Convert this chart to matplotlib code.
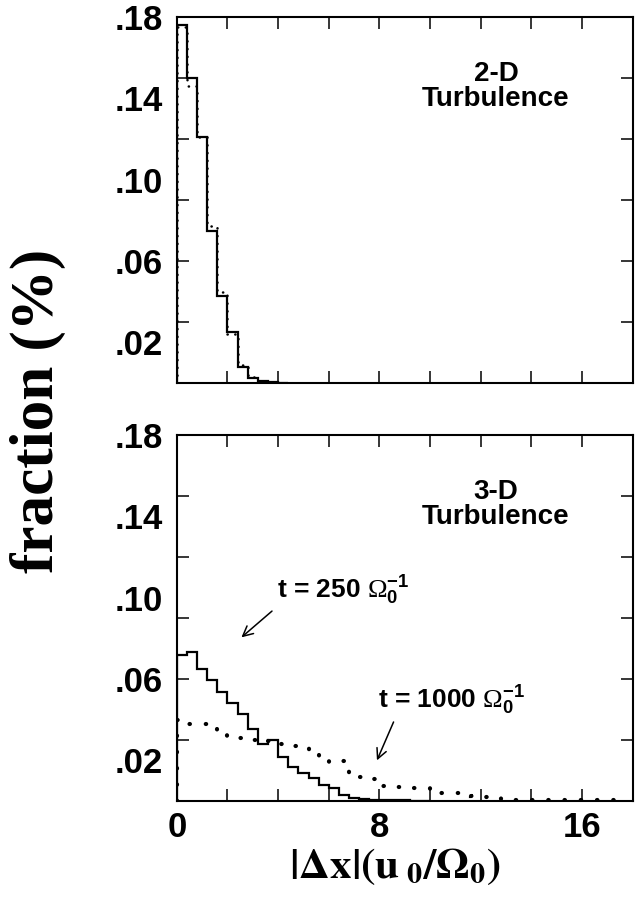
import numpy as np
import matplotlib
matplotlib.use("Agg")
import matplotlib.pyplot as plt

# ---------------- data ----------------
bin_width = 0.4
top_solid = [0.176, 0.150, 0.121, 0.075, 0.043, 0.025, 0.008, 0.0025, 0.001, 0.0003, 0.0]
top_dotted = [0.175, 0.146, 0.121, 0.077, 0.045, 0.024, 0.009, 0.003, 0.0012, 0.0004, 0.0]

bot_solid = [0.072, 0.0734, 0.065, 0.0595, 0.0535, 0.048, 0.0428, 0.0353, 0.028, 0.030,
             0.0218, 0.0169, 0.0139, 0.0111, 0.0079, 0.0062, 0.003, 0.0016, 0.001, 0.0007,
             0.0005, 0.0004, 0.0003, 0.0002, 0.0]
bot_dotted = [0.040, 0.038, 0.038, 0.036, 0.035, 0.032, 0.031, 0.030, 0.029, 0.0295,
              0.028, 0.027, 0.026, 0.024, 0.021, 0.019, 0.0195, 0.013, 0.012, 0.011,
              0.0075, 0.007, 0.0067, 0.0064, 0.0065, 0.004, 0.0038, 0.0037, 0.0035, 0.0025,
              0.002, 0.0013, 0.0012, 0.0006, 0.0005, 0.0005, 0.0005, 0.0005, 0.0004, 0.0004,
              0.0004, 0.0003, 0.0003, 0.0003]

y_tick_labels = [".02", ".06", ".10", ".14", ".18"]
y_label_pos = [0.02, 0.06, 0.10, 0.14, 0.18]
y_tick_pos = [0.03, 0.06, 0.09, 0.12, 0.15]
x_ticks = [0, 2, 4, 6, 8, 10, 12, 14, 16, 18]
x_tick_labels = ["0", "", "", "", "8", "", "", "", "16", ""]

plt.rcParams['mathtext.fontset'] = 'custom'
plt.rcParams['mathtext.rm'] = 'Liberation Serif'
plt.rcParams['mathtext.bf'] = 'Liberation Sans:bold'
plt.rcParams['mathtext.it'] = 'Liberation Serif:italic'

fig = plt.figure(figsize=(6.36, 8.99), dpi=100)
ax1 = fig.add_axes([0.278, 0.574, 0.717, 0.407])
ax2 = fig.add_axes([0.278, 0.109, 0.717, 0.407])

sans = 'Liberation Sans'

def style(ax, xlabels):
    ax.set_xlim(0, 18)
    ax.set_ylim(0, 0.18)
    ax.yaxis.remove_overlapping_locs = False
    for s in ax.spines.values():
        s.set_linewidth(1.5)
    ax.set_xticks(x_ticks)
    if xlabels:
        ax.set_xticklabels(x_tick_labels, fontsize=25, fontweight='bold', family=sans)
    else:
        ax.set_xticklabels([])
    ax.set_yticks(y_tick_pos)
    ax.set_yticklabels([])
    ax.set_yticks(y_label_pos, minor=True)
    ax.set_yticklabels(y_tick_labels, minor=True, fontsize=25, fontweight='bold', family=sans)
    ax.tick_params(which='major', direction='in', length=8.5, width=1.1,
                   top=True, right=True, pad=7)
    ax.tick_params(which='minor', axis='y', length=0, pad=10)
    ax.tick_params(which='minor', axis='x', bottom=False, top=False)

def edges(vals):
    return bin_width * np.arange(len(vals) + 1)

ax1.stairs(top_solid, edges(top_solid), color='black', linewidth=1.6)
d1 = ax1.stairs(top_dotted, edges(top_dotted), color='black', linewidth=1.8,
                linestyle=(0, (0.1, 3)))
d1.set_capstyle('round')
ax2.stairs(bot_solid, edges(bot_solid), color='black', linewidth=1.6)
d2 = ax2.stairs(bot_dotted, edges(bot_dotted), color='black', linewidth=3.0,
                linestyle=(0, (0.1, 3.8)))
d2.set_capstyle('round')

style(ax1, False)
style(ax2, True)

ax1.text(0.70, 0.81, "2-D\nTurbulence", transform=ax1.transAxes, ha='center', va='center',
         fontsize=20, fontweight='bold', family=sans, linespacing=0.95)
ax2.text(0.70, 0.81, "3-D\nTurbulence", transform=ax2.transAxes, ha='center', va='center',
         fontsize=20, fontweight='bold', family=sans, linespacing=0.95)

ax2.annotate(r"t = 250 $\Omega_{\mathbf{0}}^{\mathbf{-1}}$", xy=(2.55, 0.0805), xytext=(3.95, 0.0955),
             fontsize=19, fontweight='bold', family=sans, ha='left', va='bottom',
             arrowprops=dict(arrowstyle='->', color='black', lw=1.1,
                             shrinkA=2, shrinkB=0, mutation_scale=18, relpos=(0.0, 0.0)))
ax2.annotate(r"t = 1000 $\Omega_{\mathbf{0}}^{\mathbf{-1}}$", xy=(7.9, 0.0200), xytext=(7.95, 0.0415),
             fontsize=19, fontweight='bold', family=sans, ha='left', va='bottom',
             arrowprops=dict(arrowstyle='->', color='black', lw=1.1,
                             shrinkA=2, shrinkB=0, mutation_scale=18,
                             relpos=(0.12, 0.0)))

fig.text(0.06, 0.543, "fraction (%)", rotation=90, ha='center', va='center',
         fontsize=44, fontweight='bold', family='Liberation Serif')
fig.text(0.62, 0.037, r"$\mathbf{|\Delta x|(u_{\ 0}/\Omega_0)}$", ha='center', va='center',
         fontsize=31, math_fontfamily='stix')

fig.savefig("out.png", dpi=100)
